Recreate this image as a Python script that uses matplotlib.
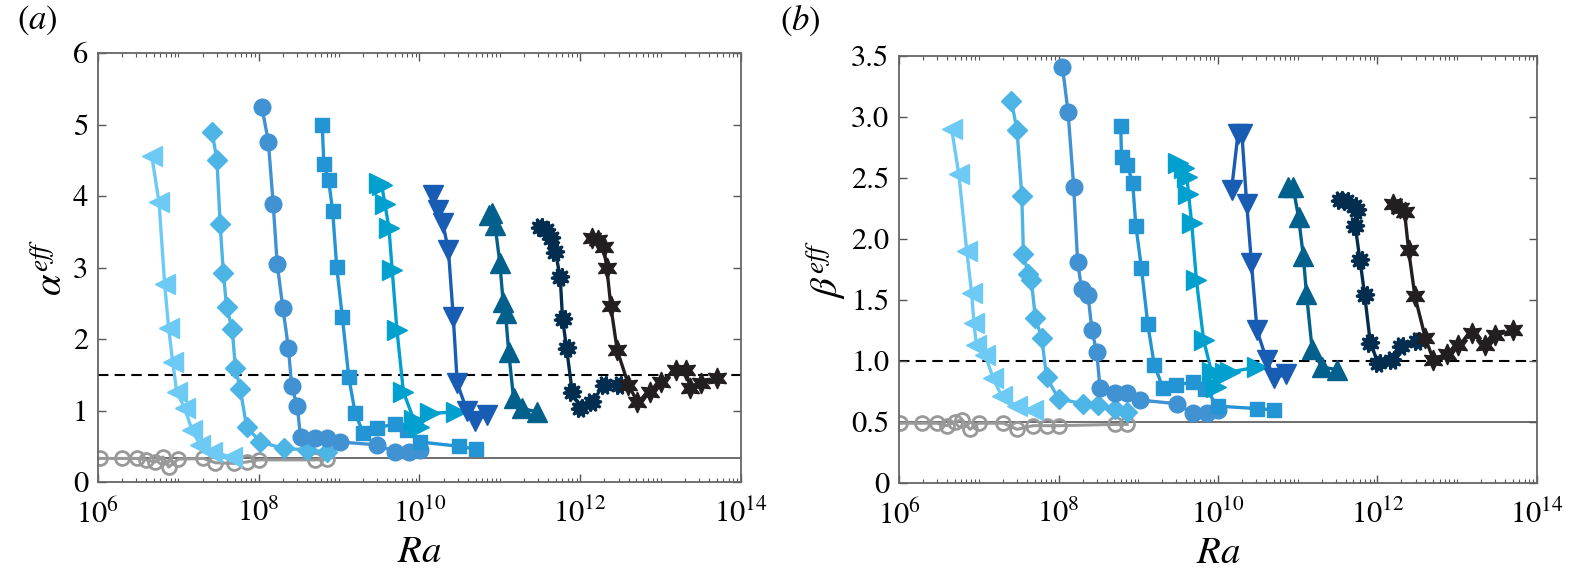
import numpy as np
import matplotlib
matplotlib.use('Agg')
import matplotlib.pyplot as plt
from matplotlib.ticker import FixedLocator, LogLocator, NullFormatter, FixedFormatter

plt.rcParams['font.family'] = ['STIXGeneral', 'Liberation Serif', 'DejaVu Serif']
plt.rcParams['mathtext.fontset'] = 'stix'

# ---- data: log10(Ra) and alpha_eff / beta_eff ----
gray_a_x = [6.02, 6.30, 6.48, 6.60, 6.71, 6.81, 6.88, 7.00, 7.31, 7.46, 7.69, 7.85, 8.00, 8.70, 8.85]
gray_a_y = [0.33, 0.33, 0.33, 0.31, 0.28, 0.35, 0.21, 0.32, 0.33, 0.27, 0.26, 0.28, 0.31, 0.31, 0.32]
gray_b_x = [6.01, 6.29, 6.47, 6.60, 6.70, 6.79, 6.89, 7.00, 7.31, 7.48, 7.68, 7.85, 8.00, 8.71, 8.86]
gray_b_y = [0.49, 0.49, 0.49, 0.47, 0.50, 0.52, 0.44, 0.49, 0.49, 0.44, 0.47, 0.47, 0.47, 0.48, 0.48]

s1_a_x = [6.67, 6.76, 6.83, 6.88, 6.93, 6.98, 7.08, 7.17, 7.27, 7.42, 7.67]
s1_a_y = [4.56, 3.91, 2.77, 2.15, 1.68, 1.26, 1.03, 0.73, 0.52, 0.42, 0.35]
s1_b_x = [6.66, 6.75, 6.85, 6.91, 6.94, 6.97, 7.08, 7.18, 7.29, 7.48, 7.68]
s1_b_y = [2.90, 2.53, 1.90, 1.56, 1.31, 1.13, 1.05, 0.86, 0.71, 0.63, 0.60]

s2_a_x = [7.42, 7.48, 7.52, 7.56, 7.60, 7.67, 7.71, 7.77, 7.85, 8.02, 8.31, 8.60, 8.85]
s2_a_y = [4.89, 4.51, 3.61, 2.93, 2.45, 2.14, 1.60, 1.30, 0.77, 0.56, 0.47, 0.45, 0.42]
s2_b_x = [7.41, 7.48, 7.54, 7.56, 7.62, 7.66, 7.71, 7.79, 7.85, 8.00, 8.31, 8.50, 8.71, 8.86]
s2_b_y = [3.13, 2.89, 2.35, 1.88, 1.71, 1.66, 1.35, 1.19, 0.87, 0.69, 0.65, 0.64, 0.61, 0.58]

s3_a_x = [8.04, 8.12, 8.18, 8.23, 8.30, 8.37, 8.41, 8.48, 8.52, 8.70, 8.85, 9.01, 9.47, 9.70, 9.87, 10.01]
s3_a_y = [5.24, 4.76, 3.89, 3.05, 2.44, 1.87, 1.34, 1.06, 0.63, 0.61, 0.61, 0.56, 0.52, 0.42, 0.42, 0.45]
s3_b_x = [8.05, 8.12, 8.19, 8.24, 8.29, 8.37, 8.42, 8.48, 8.52, 8.71, 8.86, 9.02, 9.48, 9.69, 9.86, 10.00]
s3_b_y = [3.41, 3.04, 2.43, 1.81, 1.59, 1.54, 1.25, 1.07, 0.78, 0.74, 0.74, 0.68, 0.65, 0.57, 0.57, 0.60]

s4_a_x = [8.79, 8.81, 8.87, 8.92, 8.97, 9.04, 9.12, 9.20, 9.30, 9.47, 9.70, 9.84, 10.01, 10.49, 10.70]
s4_a_y = [5.00, 4.45, 4.22, 3.79, 3.01, 2.31, 1.47, 0.96, 0.69, 0.76, 0.81, 0.73, 0.56, 0.50, 0.46]
s4_b_x = [8.78, 8.79, 8.86, 8.93, 8.97, 9.04, 9.12, 9.20, 9.31, 9.47, 9.69, 9.84, 10.00, 10.49, 10.70]
s4_b_y = [2.93, 2.67, 2.61, 2.46, 2.11, 1.76, 1.30, 0.97, 0.78, 0.80, 0.83, 0.77, 0.63, 0.61, 0.60]

s5_a_x = [9.50, 9.53, 9.57, 9.62, 9.66, 9.72, 9.80, 9.93, 9.99, 10.13, 10.46]
s5_a_y = [4.18, 4.15, 3.89, 3.55, 2.97, 2.12, 1.26, 0.87, 0.77, 0.96, 0.98]
s5_b_x = [9.50, 9.57, 9.61, 9.63, 9.67, 9.73, 9.82, 9.92, 9.98, 10.09, 10.15, 10.49]
s5_b_y = [2.62, 2.58, 2.51, 2.37, 2.13, 1.66, 1.17, 0.91, 0.79, 0.90, 0.91, 0.95]

s6_a_x = [10.17, 10.23, 10.29, 10.36, 10.42, 10.47, 10.59, 10.69, 10.84]
s6_a_y = [4.01, 3.80, 3.62, 3.24, 2.31, 1.38, 1.00, 0.86, 0.94]
s6_b_x = [10.17, 10.25, 10.30, 10.36, 10.42, 10.49, 10.61, 10.70, 10.85]
s6_b_y = [2.40, 2.86, 2.86, 2.29, 1.80, 1.25, 1.01, 0.86, 0.89]

s7_a_x = [10.86, 10.90, 10.94, 11.00, 11.04, 11.07, 11.11, 11.17, 11.28, 11.46]
s7_a_y = [3.74, 3.76, 3.59, 3.06, 2.52, 2.36, 1.82, 1.17, 1.03, 0.98]
s7_b_x = [10.88, 10.94, 11.01, 11.07, 11.11, 11.18, 11.30, 11.49]
s7_b_y = [2.43, 2.43, 2.18, 1.86, 1.55, 1.10, 0.95, 0.93]

s8_a_x = [11.50, 11.57, 11.63, 11.69, 11.75, 11.78, 11.83, 11.90, 12.00, 12.15, 12.29, 12.48]
s8_a_y = [3.57, 3.52, 3.41, 3.22, 2.87, 2.28, 1.87, 1.26, 1.03, 1.12, 1.36, 1.36]
s8_b_x = [11.53, 11.61, 11.70, 11.74, 11.72, 11.78, 11.84, 11.91, 12.01, 12.18, 12.30, 12.49]
s8_b_y = [2.32, 2.31, 2.27, 2.24, 2.11, 1.83, 1.54, 1.15, 0.98, 1.01, 1.12, 1.16]

s9_a_x = [12.15, 12.22, 12.29, 12.33, 12.38, 12.46, 12.60, 12.71, 12.87, 13.00, 13.19, 13.31, 13.37, 13.50, 13.70]
s9_a_y = [3.42, 3.38, 3.29, 3.00, 2.46, 1.84, 1.36, 1.12, 1.26, 1.40, 1.57, 1.57, 1.31, 1.38, 1.45]
s9_b_x = [12.20, 12.28, 12.34, 12.39, 12.47, 12.60, 12.70, 12.87, 13.01, 13.18, 13.35, 13.47, 13.70]
s9_b_y = [2.29, 2.25, 2.22, 1.91, 1.53, 1.19, 1.01, 1.06, 1.13, 1.23, 1.13, 1.21, 1.25]

# gear-like marker for the eighth series
t = np.linspace(0, 2 * np.pi, 41)
r = np.where((np.arange(41) // 2) % 2 == 0, 1.0, 0.72)
gear = np.column_stack([r * np.cos(t), r * np.sin(t)])

series_a = [
    (s1_a_x, s1_a_y, '<', '#6dcaf4', 14),
    (s2_a_x, s2_a_y, 'D', '#4db4e6', 10),
    (s3_a_x, s3_a_y, 'o', '#4192d2', 12),
    (s4_a_x, s4_a_y, 's', '#2394d4', 9.5),
    (s5_a_x, s5_a_y, '>', '#01a0cf', 14),
    (s6_a_x, s6_a_y, 'v', '#185db3', 14),
    (s7_a_x, s7_a_y, '^', '#02608c', 14),
    (s8_a_x, s8_a_y, gear, '#022d4e', 13),
    (s9_a_x, s9_a_y, (6, 1, 0), '#231f20', 15),
]
series_b = [
    (s1_b_x, s1_b_y, '<', '#6dcaf4', 14),
    (s2_b_x, s2_b_y, 'D', '#4db4e6', 10),
    (s3_b_x, s3_b_y, 'o', '#4192d2', 12),
    (s4_b_x, s4_b_y, 's', '#2394d4', 9.5),
    (s5_b_x, s5_b_y, '>', '#01a0cf', 14),
    (s6_b_x, s6_b_y, 'v', '#185db3', 14),
    (s7_b_x, s7_b_y, '^', '#02608c', 14),
    (s8_b_x, s8_b_y, gear, '#022d4e', 13),
    (s9_b_x, s9_b_y, (6, 1, 0), '#231f20', 15),
]


def draw_panel(ax, gx, gy, series, ref_line, solid_line, ylim, yticks, ylabels, ylab):
    ax.axhline(solid_line, color='#555555', lw=1.2, zorder=1)
    ax.axhline(ref_line, color='black', lw=1.5, ls=(0, (5, 3)), zorder=1)
    ax.plot(10 ** np.array(gx), gy, '-o', color='#999999', lw=2.2, ms=10,
            mfc='none', mew=2.0, zorder=2)
    for x, y, m, c, ms in series:
        ax.plot(10 ** np.array(x), y, '-', marker=m, color=c, lw=2.4, ms=ms,
                mec=c, mfc=c, zorder=3)
    ax.set_xscale('log')
    ax.set_xlim(1e6, 1e14)
    ax.set_ylim(*ylim)
    ax.xaxis.set_major_locator(FixedLocator([1e6, 1e8, 1e10, 1e12, 1e14]))
    ax.xaxis.set_minor_locator(LogLocator(base=10, subs=np.arange(1, 10), numticks=100))
    ax.xaxis.set_minor_formatter(NullFormatter())
    ax.set_yticks(yticks)
    ax.yaxis.set_major_formatter(FixedFormatter(ylabels))
    ax.tick_params(which='both', direction='in', top=True, right=True,
                   color='#555555', labelsize=22)
    ax.tick_params(axis='x', pad=12)
    ax.tick_params(axis='y', pad=7)
    ax.tick_params(which='major', length=6, width=1)
    ax.tick_params(which='minor', length=3, width=0.8)
    for sp in ax.spines.values():
        sp.set_color('#666666')
        sp.set_linewidth(1.3)
    ax.set_xlabel('$Ra$', fontsize=28, labelpad=4)
    ax.set_ylabel(ylab, fontsize=28, labelpad=2)


fig = plt.figure(figsize=(15.72, 5.83), dpi=100)
ax1 = fig.add_axes([0.0623, 0.1732, 0.4091, 0.7358])
ax2 = fig.add_axes([0.5719, 0.1715, 0.4058, 0.7325])

draw_panel(ax1, gray_a_x, gray_a_y, series_a, 1.5, 0.33, (0, 6),
           [0, 1, 2, 3, 4, 5, 6], ['0', '1', '2', '3', '4', '5', '6'],
           r'$\alpha^{eff}$')
draw_panel(ax2, gray_b_x, gray_b_y, series_b, 1.0, 0.5, (0, 3.5),
           [0, 0.5, 1, 1.5, 2, 2.5, 3, 3.5],
           ['0', '0.5', '1.0', '1.5', '2.0', '2.5', '3.0', '3.5'],
           r'$\beta^{eff}$')

fig.text(0.0235, 0.965, r'$(a)$', fontsize=25, ha='center', va='center')
fig.text(0.509, 0.965, r'$(b)$', fontsize=25, ha='center', va='center')

fig.savefig('out.png', dpi=100)
